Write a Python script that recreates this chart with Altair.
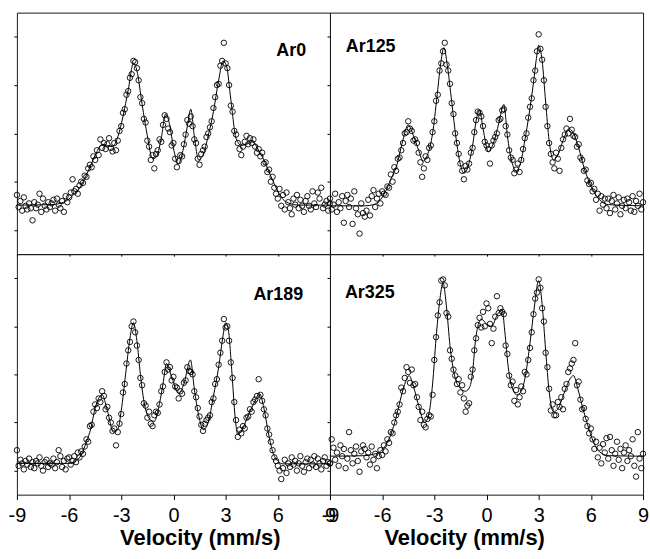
import altair as alt
import numpy as np
import pandas as pd

# Mossbauer channel velocities (mm/s), evenly spaced channels
VELOCITY = np.round(np.linspace(-9.0, 9.0, 181), 2)

LABELS = ["Ar0", "Ar125", "Ar189", "Ar325"]
X_TICKS = [-9, -7.5, -6, -4.5, -3, -1.5, 0, 1.5, 3, 4.5, 6, 7.5, 9]
Y_TICKS = [1, 2, 3, 4, 5, 6, 7, 8, 9]

# ---- measured counts (relative units) ----
AR0 = [2.45, 1.95, 2.2, 1.8, 2.35, 2.0, 1.85, 2.1, 1.9, 1.4,
       2.15, 1.9, 2.05, 2.5, 1.75, 2.3, 2.0, 1.85, 2.15, 1.95,
       2.1, 2.25, 1.8, 2.3, 2.05, 1.9, 2.2, 1.75, 2.4, 2.15,
       2.35, 2.55, 3.1, 2.6, 2.7, 2.5, 2.85, 3.0, 2.95, 3.25,
       3.2, 3.55, 3.7, 3.6, 4.05, 3.9, 4.3, 4.1, 4.75, 4.4,
       4.6, 4.35, 4.55, 4.8, 4.4, 4.25, 4.6, 4.3, 4.7, 5.1,
       5.3, 5.85, 6.0, 6.6, 6.75, 7.3, 7.45, 8.0, 7.95, 7.7,
       7.2, 6.5, 6.25, 5.6, 5.45, 4.7, 4.45, 3.9, 4.1, 3.55,
       4.15, 4.3, 4.75, 4.65, 5.35, 5.75, 5.6, 5.2, 5.05, 4.5,
       4.6, 3.95, 3.6, 3.85, 4.1, 4.05, 4.55, 4.95, 5.55, 5.4,
       5.7, 5.3, 4.75, 4.6, 3.95, 3.7, 4.15, 4.3, 4.45, 4.85,
       5.0, 5.25, 5.5, 6.05, 6.5, 7.0, 7.05, 7.8, 8.0, 8.75,
       7.9, 7.7, 7.0, 6.15, 5.9, 5.1, 4.95, 4.6, 4.35, 4.1,
       4.45, 4.65, 4.9, 4.55, 4.8, 4.6, 4.75, 4.45, 4.2, 4.35,
       4.05, 4.2, 3.75, 3.8, 3.4, 3.5, 3.0, 3.2, 2.75, 2.5,
       2.3, 2.7, 2.0, 2.45, 1.85, 2.55, 2.15, 1.9, 1.65, 2.3,
       2.05, 2.45, 1.9, 2.25, 2.0, 1.75, 2.2, 2.4, 2.0, 1.85,
       2.6, 2.1, 1.95, 2.55, 2.3, 2.75, 1.9, 2.05, 2.2, 1.8,
       2.1]

AR125 = [2.3, 1.85, 2.05, 2.5, 1.75, 2.15, 1.9, 2.4, 1.3, 2.2,
         2.45, 1.95, 2.3, 1.25, 2.6, 1.9, 1.65, 0.85, 2.1, 1.7,
         1.55, 1.8, 2.25, 1.6, 2.4, 2.65, 1.95, 2.3, 2.5, 2.1,
         2.6, 2.5, 2.45, 2.8, 2.75, 3.3, 3.0, 3.6, 3.45, 3.95,
         4.0, 4.3, 4.6, 5.0, 5.05, 5.5, 5.2, 5.1, 4.7, 4.75,
         4.6, 4.2, 3.8, 3.2, 3.55, 4.05, 3.9, 4.4, 4.5, 5.05,
         5.5, 6.35, 6.6, 7.6, 7.9, 8.4, 8.75, 7.85, 7.6, 7.05,
         6.25, 5.8, 5.0, 4.6, 4.15, 3.75, 3.45, 3.1, 3.65, 3.5,
         3.75, 4.2, 4.4, 5.05, 5.55, 5.9, 5.85, 5.7, 5.3, 4.65,
         4.5, 4.35, 3.75, 4.5, 4.7, 4.85, 5.0, 5.55, 5.6, 5.95,
         6.0, 5.3, 4.95, 4.3, 4.0, 3.9, 3.35, 3.5, 3.75, 3.4,
         3.9, 4.35, 4.8, 5.0, 5.65, 6.1, 6.45, 7.2, 7.6, 8.4,
         9.1, 8.5, 8.05, 7.2, 6.1, 5.3, 4.6, 4.15, 3.8, 3.55,
         4.2, 3.95, 3.45, 4.4, 4.75, 4.95, 5.2, 5.0, 5.6, 5.15,
         4.9, 4.85, 4.45, 4.55, 4.0, 3.9, 3.45, 3.5, 3.05, 2.9,
         2.95, 2.6, 2.7, 2.25, 2.5, 1.8, 2.4, 2.05, 2.3, 1.9,
         2.3, 1.7, 2.2, 2.45, 1.85, 2.1, 2.35, 1.65, 2.0, 2.25,
         1.9, 2.3, 2.15, 1.8, 2.4, 1.75, 2.2, 2.0, 2.5, 1.85,
         2.15]

AR189 = [1.85, 1.2, 1.45, 1.3, 1.05, 1.4, 1.25, 1.5, 1.15, 1.35,
         1.1, 1.4, 1.3, 1.55, 1.2, 1.0, 1.35, 1.45, 1.15, 1.3,
         1.25, 1.5, 1.1, 1.35, 1.85, 1.6, 1.15, 1.4, 1.05, 1.5,
         1.55, 1.25, 1.4, 1.6, 1.35, 1.75, 1.55, 1.8, 1.7, 2.0,
         2.3, 2.2, 2.85, 2.9, 3.45, 3.75, 3.6, 4.0, 3.85, 4.3,
         4.1, 3.55, 3.65, 3.2, 3.0, 2.65, 2.75, 2.05, 2.6, 2.95,
         3.35, 4.25, 4.6, 5.45, 6.0, 6.35, 7.0, 7.2, 6.75, 6.2,
         5.6, 4.85, 4.55, 3.8, 3.7, 3.2, 3.45, 2.95, 2.85, 3.3,
         3.45, 3.4, 3.75, 4.3, 4.5, 5.1, 5.5, 5.2, 5.3, 4.75,
         4.9, 4.5, 4.45, 4.0, 4.3, 4.2, 4.65, 4.75, 5.3, 5.15,
         5.1, 5.0, 4.3, 4.05, 3.6, 3.25, 2.9, 2.65, 2.95, 3.1,
         3.2, 3.3, 3.85, 4.0, 4.6, 4.8, 5.4, 5.9, 6.4, 7.3,
         6.95, 7.0, 6.4, 5.5, 4.85, 3.85, 3.1, 2.4, 2.7, 2.55,
         2.85, 2.75, 3.2, 3.25, 3.55, 3.45, 3.85, 3.95, 4.1, 4.8,
         4.15, 3.9, 3.55, 3.3, 2.75, 2.5, 2.2, 1.85, 1.55, 1.4,
         1.2, 1.0, 0.65, 1.1, 1.45, 0.9, 1.3, 1.15, 1.55, 1.25,
         1.4, 1.0, 1.3, 1.6, 1.2, 0.95, 1.35, 1.5, 1.1, 1.45,
         1.25, 1.6, 1.15, 1.5, 1.3, 1.05, 1.4, 1.55, 1.2, 1.35,
         1.3]

AR325 = [1.3, 2.3, 1.95, 1.45, 1.75, 1.2, 2.05, 1.6, 1.9, 1.1,
         1.5, 2.6, 1.85, 1.3, 1.7, 2.0, 1.4, 0.95, 1.8, 2.05,
         1.9, 1.55, 1.75, 1.25, 2.0, 1.45, 1.7, 1.1, 1.6, 1.85,
         1.65, 2.05, 1.8, 2.3, 2.15, 2.6, 2.55, 3.0, 3.3, 3.45,
         3.75, 4.45, 4.3, 4.85, 5.3, 5.1, 4.65, 5.2, 4.55, 4.6,
         4.05, 3.65, 3.1, 3.45, 2.9, 2.8, 3.15, 3.3, 3.25, 4.15,
         5.6, 6.55, 7.45, 8.0, 8.9, 8.95, 8.7, 7.55, 7.4, 6.0,
         5.65, 5.2, 4.95, 4.6, 4.8, 4.25, 4.55, 4.0, 3.45, 3.7,
         3.8, 4.9, 5.2, 6.0, 6.5, 7.05, 7.35, 6.95, 7.6, 7.0,
         7.95, 7.75, 7.1, 6.3, 6.9, 7.4, 8.25, 7.55, 7.75, 7.6,
         7.5, 6.2, 5.85, 4.95, 4.55, 4.7, 3.9, 4.35, 3.75, 4.05,
         4.5, 4.3, 5.1, 5.0, 5.6, 6.1, 6.75, 7.5, 8.15, 8.4,
         8.95, 8.6, 7.75, 7.2, 5.9, 5.3, 4.4, 3.5, 3.75, 3.3,
         3.3, 3.85, 3.65, 4.05, 3.55, 4.4, 4.6, 5.1, 5.25, 5.45,
         5.6, 6.3, 4.55, 4.7, 3.95, 3.55, 3.6, 3.15, 2.85, 2.55,
         2.75, 2.3, 1.9, 2.2, 1.55, 1.95, 1.3, 2.1, 1.75, 2.35,
         1.5, 2.4, 1.85, 1.2, 1.7, 2.2, 1.45, 1.9, 1.1, 1.75,
         2.05, 1.4, 1.85, 1.6, 2.3, 1.2, 0.75, 2.6, 1.5, 1.1,
         1.7]

# ---- fitted curves: vertices ----
FIT0_X = [-9.0, -7.0, -6.3, -5.9, -5.3, -4.8, -4.4, -4.1, -3.8, -3.5, -3.2, -2.9,
          -2.6, -2.3, -2.1, -1.8, -1.5, -1.2, -1.0, -0.7, -0.45, -0.2, 0.0, 0.28,
          0.55, 0.8, 1.0, 1.2, 1.45, 1.7, 2.0, 2.3, 2.6, 2.85, 3.05, 3.3,
          3.6, 3.9, 4.2, 4.55, 4.9, 5.2, 5.5, 5.9, 6.2, 6.6, 7.2, 9.0]
FIT0_Y = [2.03, 2.05, 2.15, 2.35, 2.85, 3.6, 4.25, 4.55, 4.5, 4.45, 4.85, 5.7,
          6.8, 7.9, 7.6, 6.2, 4.9, 3.95, 4.0, 4.8, 5.8, 5.3, 4.4, 3.75,
          4.3, 5.3, 6.0, 4.9, 3.9, 4.1, 4.9, 5.9, 7.2, 8.0, 7.8, 6.4,
          4.8, 4.5, 4.55, 4.65, 4.3, 3.9, 3.4, 2.75, 2.35, 2.12, 2.03, 2.03]

FIT125_X = [-9.0, -7.0, -6.5, -6.1, -5.8, -5.5, -5.15, -4.85, -4.5, -4.2, -3.9,
            -3.65, -3.4, -3.1, -2.85, -2.65, -2.45, -2.25, -2.0, -1.75, -1.5,
            -1.3, -1.05, -0.8, -0.55, -0.4, -0.2, 0.1, 0.4, 0.7, 1.0, 1.2, 1.45,
            1.7, 1.95, 2.2, 2.45, 2.7, 2.85, 3.0, 3.2, 3.4, 3.6, 3.85, 4.1, 4.4,
            4.75, 5.0, 5.3, 5.6, 5.9, 6.2, 6.5, 7.0, 9.0]
FIT125_Y = [2.0, 2.0, 2.05, 2.25, 2.6, 3.1, 3.7, 4.6, 5.35, 4.9, 4.3,
            3.85, 4.1, 5.0, 6.5, 7.8, 8.55, 7.8, 6.3, 4.8, 3.7,
            3.35, 3.65, 4.5, 5.7, 5.95, 5.2, 4.25, 4.6, 5.4, 6.2, 4.9, 3.85,
            3.45, 3.75, 4.7, 5.8, 7.1, 8.0, 8.65, 8.0, 6.3, 4.7, 3.9, 4.1, 4.7,
            5.2, 5.0, 4.4, 3.6, 3.0, 2.55, 2.25, 2.05, 2.0]

FIT189_X = [-9.0, -6.0, -5.6, -5.3, -5.0, -4.75, -4.5, -4.1, -3.8, -3.45, -3.2,
            -3.0, -2.75, -2.5, -2.3, -2.1, -1.9, -1.65, -1.3, -1.1, -0.8, -0.6,
            -0.4, -0.1, 0.3, 0.6, 0.98, 1.2, 1.45, 1.72, 2.0, 2.3, 2.6, 2.85,
            3.0, 3.15, 3.35, 3.55, 3.7, 3.95, 4.3, 4.7, 4.95, 5.2, 5.45, 5.7,
            6.0, 6.3, 9.0]
FIT189_Y = [1.3, 1.3, 1.4, 1.65, 2.2, 2.75, 3.6, 4.15, 3.5, 2.6, 2.7,
            3.5, 5.0, 6.5, 7.15, 6.4, 5.0, 3.7, 3.1, 3.05, 3.8, 4.6,
            5.45, 4.9, 4.2, 4.6, 5.6, 4.4, 3.3, 2.7, 3.0, 4.1, 5.3, 6.6,
            7.15, 6.9, 5.2, 3.2, 2.5, 2.7, 3.3, 3.9, 4.2, 3.6, 2.6, 1.8,
            1.4, 1.28, 1.28]

FIT325_X = [-9.0, -7.0, -6.5, -6.1, -5.8, -5.5, -5.2, -4.9, -4.65, -4.45, -4.2,
            -3.9, -3.55, -3.3, -3.1, -2.9, -2.7, -2.5, -2.3, -2.1, -1.85, -1.55,
            -1.2, -0.95, -0.8, -0.65, -0.5, -0.3, 0.0, 0.3, 0.6, 0.9, 1.05, 1.25,
            1.5, 1.75, 2.0, 2.25, 2.5, 2.75, 3.0, 3.2, 3.4, 3.6, 3.85, 4.1, 4.4,
            4.75, 5.0, 5.25, 5.5, 5.9, 6.2, 6.5, 7.0, 9.0]
FIT325_Y = [1.6, 1.62, 1.68, 1.8, 2.05, 2.5, 3.2, 4.1, 4.7, 4.95, 4.5,
            3.7, 3.0, 3.4, 4.6, 6.5, 8.0, 8.8, 7.8, 6.2, 5.0, 4.45,
            4.3, 4.5, 5.1, 6.3, 7.0, 7.3, 7.1, 7.0, 7.45, 7.7, 6.8, 5.3,
            4.4, 4.15, 4.3, 5.0, 6.3, 7.8, 8.9, 7.9, 6.0, 4.3, 3.45, 3.55, 4.1,
            4.75, 4.95, 4.4, 3.7, 2.7, 2.1, 1.78, 1.62, 1.6]

for arr in (AR0, AR125, AR189, AR325):
    assert len(arr) == len(VELOCITY), len(arr)
for fx, fy in ((FIT0_X, FIT0_Y), (FIT125_X, FIT125_Y), (FIT189_X, FIT189_Y), (FIT325_X, FIT325_Y)):
    assert len(fx) == len(fy), (len(fx), len(fy))

FONT = "Liberation Sans"
PANEL_W = 315


def panel(values, fit_x, fit_y, label, label_x, label_y, label_align, height, bottom, title_x):
    pts = pd.DataFrame({"v": VELOCITY, "c": values})
    fit = pd.DataFrame({"v": fit_x, "c": fit_y})
    xs = alt.Scale(domain=[-9, 9], nice=False, zero=False)
    ys = alt.Scale(domain=[0, 10], nice=False, zero=False)
    if bottom:
        xaxis = alt.Axis(values=X_TICKS,
                         labelExpr="datum.value % 3 == 0 ? toString(datum.value) : ''",
                         labelFontSize=20, labelPadding=6, labelFont=FONT,
                         labelFlush=False, labelOverlap=False, labelColor="black",
                         tickSize=5, tickColor="black", domain=False, grid=False,
                         title="Velocity (mm/s)", titleFontSize=22, titleFontWeight="bold",
                         titleFont=FONT, titleColor="black", titleX=title_x, titleY=50,
                         titleAlign="center", titleBaseline="alphabetic")
    else:
        xaxis = alt.Axis(values=X_TICKS, labels=False, tickSize=2, tickColor="black",
                         domain=False, grid=False, title=None)
    yaxis = alt.Axis(values=Y_TICKS, labels=False, tickSize=3, tickColor="black",
                     domain=False, grid=False, title=None)

    points = alt.Chart(pts).mark_point(shape="circle", filled=False, size=30,
                                       strokeWidth=0.9, color="black", opacity=1).encode(
        x=alt.X("v:Q", scale=xs, axis=xaxis),
        y=alt.Y("c:Q", scale=ys, axis=yaxis),
    )
    line = alt.Chart(fit).mark_line(color="black", strokeWidth=1,
                                    interpolate="monotone").encode(
        x=alt.X("v:Q", scale=xs),
        y=alt.Y("c:Q", scale=ys),
    )
    text = alt.Chart(pd.DataFrame({"t": [label]})).mark_text(
        align=label_align, baseline="alphabetic", fontSize=18, fontWeight="bold",
        font=FONT, color="black").encode(
        text="t:N", x=alt.value(label_x), y=alt.value(label_y))
    return alt.layer(points, line, text).properties(width=PANEL_W, height=height)


p0 = panel(AR0, FIT0_X, FIT0_Y, LABELS[0], 291, 44, "right", 243, False, 0)
p1 = panel(AR125, FIT125_X, FIT125_Y, LABELS[1], 16, 40, "left", 243, False, 0)
p2 = panel(AR189, FIT189_X, FIT189_Y, LABELS[2], 288, 46, "right", 242, True, 184)
p3 = panel(AR325, FIT325_X, FIT325_Y, LABELS[3], 15, 44, "left", 242, True, 135)

chart = alt.concat(
    p0, p1, p2, p3, columns=2, spacing=0, bounds="flush",
).properties(
    padding={"left": 7, "top": 10, "right": 0, "bottom": 0},
    background="white",
).configure_view(stroke="#1a1a1a", strokeWidth=1)

chart.save("out.html", embed_options={"renderer": "svg", "actions": False})
